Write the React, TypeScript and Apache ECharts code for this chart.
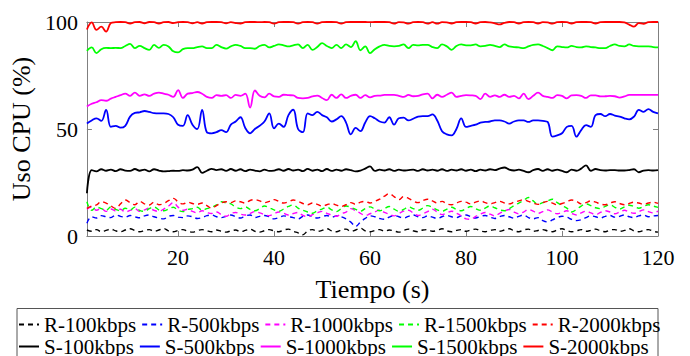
import React, { useEffect, useRef } from "react";
import * as echarts from "echarts";

const FONT = "Liberation Serif";

const TIME: number[] = Array.from({ length: 120 }, (_, i) => i + 1);
const X_TICKS = [20, 40, 60, 80, 100, 120];

const R100 = [
  2.8, 2.2, 3.0, 2.0, 2.6, 3.2, 2.4, 2.0, 2.8, 3.4,
  2.6, 2.0, 2.5, 3.0, 2.2, 2.8, 3.5, 2.4, 2.0, 2.6,
  3.0, 2.2, 1.8, 2.5, 3.0, 2.4, 2.0, 2.8, 2.2, 1.8,
  2.4, 2.8, 2.0, 2.6, 3.2, 2.2, 1.8, 2.5, 3.0, 2.4,
  2.0, 2.8, 3.2, 2.2, 1.5, 0.6, 2.4, 3.0, 2.2, 2.6,
  3.4, 2.4, 2.0, 2.8, 3.2, 2.2, 2.8, 3.6, 2.4, 2.0,
  2.6, 3.0, 2.2, 2.8, 2.4, 1.8, 2.6, 3.2, 2.4, 2.0,
  2.8, 3.0, 2.2, 2.6, 3.4, 2.4, 2.0, 2.6, 3.0, 2.2,
  2.8, 3.2, 2.4, 2.0, 2.6, 3.0, 2.2, 2.8, 3.4, 2.4,
  2.0, 2.8, 3.2, 2.2, 2.6, 3.0, 2.4, 2.0, 2.8, 3.4,
  2.6, 2.0, 2.4, 3.0, 2.2, 2.6, 3.2, 2.4, 2.0, 2.8,
  3.0, 2.2, 2.6, 3.4, 2.4, 2.0, 2.6, 3.0, 2.2, 1.8,
];
const R500 = [
  6.0, 9.0, 8.4, 9.5, 9.0, 8.6, 9.8, 9.2, 8.8, 9.6,
  9.0, 8.5, 9.4, 9.8, 9.0, 8.4, 8.0, 9.2, 9.6, 8.8,
  8.6, 9.4, 9.0, 8.2, 8.6, 9.5, 9.8, 9.0, 8.6, 9.2,
  9.8, 9.0, 8.4, 9.4, 9.8, 8.6, 9.2, 9.6, 9.0, 8.0,
  8.6, 9.4, 9.0, 8.6, 8.0, 9.2, 9.8, 9.0, 8.4, 9.0,
  9.6, 8.8, 9.4, 9.0, 8.0, 6.5, 4.5, 6.5, 8.2, 9.4,
  9.0, 8.2, 7.8, 8.8, 9.6, 9.0, 8.4, 9.2, 9.8, 9.0,
  8.6, 9.4, 8.8, 8.2, 9.0, 9.6, 9.0, 8.6, 9.4, 9.8,
  9.0, 8.4, 9.2, 9.6, 8.8, 8.2, 9.0, 9.6, 9.0, 8.4,
  9.2, 9.8, 8.6, 8.0, 8.6, 7.2, 6.6, 7.5, 8.6, 9.2,
  8.8, 7.8, 7.2, 7.6, 8.6, 9.4, 9.0, 8.4, 9.2, 9.6,
  8.8, 9.2, 9.8, 9.0, 8.6, 9.4, 9.8, 9.0, 9.4, 9.6,
];
const R1000 = [
  12.5, 13.5, 12.0, 12.8, 11.5, 12.6, 11.8, 12.5, 11.2, 12.0,
  12.8, 11.5, 12.2, 13.0, 12.0, 11.5, 12.6, 14.0, 15.6, 13.5,
  12.0, 12.5, 11.5, 10.8, 11.8, 11.0, 10.5, 11.2, 10.0, 9.2,
  10.5, 11.0, 10.2, 9.8, 10.6, 11.4, 10.8, 10.0, 9.5, 10.4,
  11.2, 10.6, 9.8, 10.5, 11.0, 9.6, 9.0, 10.0, 10.8, 11.5,
  10.6, 9.8, 9.2, 10.4, 11.2, 12.8, 11.8, 10.6, 9.6, 10.4,
  11.2, 12.2, 11.0, 10.2, 9.4, 10.5, 11.6, 12.0, 10.8, 9.6,
  10.4, 11.4, 12.5, 11.2, 10.0, 10.8, 11.6, 10.6, 9.4, 8.0,
  7.8, 9.2, 10.2, 11.0, 10.2, 9.4, 10.6, 11.6, 12.4, 11.2,
  10.4, 11.2, 12.4, 11.6, 10.6, 11.4, 12.2, 11.2, 10.4, 11.0,
  11.8, 10.6, 9.8, 10.8, 11.6, 10.8, 10.0, 11.0, 11.8, 11.2,
  10.4, 11.2, 12.0, 11.2, 10.6, 11.4, 12.2, 11.4, 10.8, 11.6,
];
const R1500 = [
  16.0, 12.0, 13.5, 12.8, 12.0, 13.6, 12.4, 11.8, 13.0, 12.2,
  13.5, 12.0, 11.5, 12.8, 13.6, 12.2, 11.8, 12.6, 13.4, 12.0,
  11.4, 12.4, 12.8, 13.4, 12.0, 12.8, 13.4, 14.5, 16.0, 15.5,
  15.0, 13.5, 12.8, 13.6, 12.4, 11.8, 12.8, 14.0, 13.2, 12.2,
  11.6, 12.6, 13.8, 14.5, 13.0, 12.0, 11.2, 10.6, 11.8, 12.6,
  13.4, 12.2, 11.4, 12.8, 14.0, 13.4, 12.4, 11.6, 12.8, 13.6,
  12.6, 11.8, 12.8, 13.8, 12.6, 11.6, 12.4, 13.6, 12.8, 12.0,
  13.0, 14.2, 13.4, 12.2, 11.6, 12.6, 13.4, 12.4, 11.8, 12.8,
  13.8, 12.8, 12.0, 13.0, 14.0, 13.2, 12.2, 11.8, 12.8, 14.2,
  15.4, 16.6, 18.0, 16.4, 14.8, 15.6, 16.4, 17.2, 15.6, 14.2,
  13.0, 11.2, 12.4, 14.0, 15.0, 14.2, 13.2, 12.8, 13.8, 14.6,
  13.4, 12.6, 13.6, 14.4, 13.8, 13.0, 13.8, 14.6, 14.0, 13.4,
];
const R2000 = [
  12.9, 14.0, 14.5, 16.0, 15.4, 14.0, 12.9, 15.0, 16.8, 15.6,
  14.6, 16.2, 15.0, 14.5, 15.8, 14.6, 15.2, 16.5, 17.6, 16.0,
  15.0, 15.8, 15.2, 14.8, 15.4, 14.2, 13.0, 14.2, 15.4, 16.0,
  15.6, 16.4, 16.0, 15.4, 16.6, 17.0, 16.4, 15.6, 16.2, 17.0,
  16.2, 15.4, 16.0, 16.8, 16.2, 15.2, 14.6, 15.4, 14.8, 14.0,
  14.6, 15.2, 14.4, 13.8, 14.6, 15.6, 14.8, 15.8, 16.2, 15.4,
  16.2, 17.2, 18.6, 19.8, 18.4, 17.0, 18.4, 17.6, 16.4, 15.6,
  16.6, 17.2, 16.4, 15.4, 16.2, 15.0, 14.6, 15.4, 16.2, 15.8,
  15.0, 15.8, 16.4, 15.6, 15.0, 15.6, 16.2, 15.4, 15.0, 15.8,
  16.4, 17.0, 16.2, 15.4, 14.8, 15.6, 16.2, 15.4, 14.6, 15.2,
  16.0, 16.8, 16.2, 15.0, 15.6, 16.4, 15.8, 15.0, 14.6, 15.4,
  16.0, 15.2, 14.6, 15.2, 15.8, 15.4, 14.8, 15.4, 15.8, 15.2,
];
const S100 = [
  20.0, 30.8, 30.2, 31.2, 30.5, 31.0, 30.3, 31.2, 30.6, 30.4,
  31.3, 30.5, 31.0, 30.2, 31.2, 30.6, 30.2, 30.3, 30.5, 30.4,
  30.8, 30.6, 31.0, 32.2, 29.5, 30.5, 31.4, 30.8, 31.2, 30.4,
  31.3, 30.5, 31.2, 30.3, 31.0, 30.6, 30.2, 31.0, 30.4, 30.6,
  31.2, 30.5, 31.3, 30.6, 31.0, 30.3, 31.4, 30.5, 31.0, 30.3,
  31.3, 30.4, 31.0, 30.5, 31.2, 30.8, 30.2, 30.6, 31.5, 32.5,
  30.4, 31.0, 30.6, 31.2, 30.4, 31.0, 30.6, 30.8, 31.0, 30.4,
  31.2, 30.6, 31.0, 30.5, 31.2, 30.4, 31.0, 30.6, 31.2, 30.5,
  31.0, 30.3, 31.0, 30.6, 31.2, 30.8, 31.5, 32.0, 31.0, 30.6,
  31.0, 30.4, 29.8, 30.8, 31.3, 30.4, 31.2, 30.5, 31.0, 30.4,
  29.8, 31.0, 30.5, 31.5, 33.0, 30.5, 31.3, 30.8, 30.6, 30.8,
  30.8, 30.6, 30.6, 30.8, 31.2, 29.8, 30.6, 30.8, 30.6, 30.8,
];
const S500 = [
  52.6, 54.0, 55.0, 53.8, 58.9, 51.0, 51.5, 50.6, 51.5, 55.8,
  57.5, 57.8, 58.4, 58.0, 57.4, 57.3, 57.3, 57.0, 55.5, 52.0,
  51.5, 56.5, 52.0, 50.0, 58.9, 48.5, 48.0, 48.5, 49.5, 48.5,
  52.0, 53.5, 55.5, 50.5, 48.0, 50.0, 51.5, 53.5, 57.3, 50.3,
  52.5, 51.0, 56.5, 59.0, 50.0, 48.5, 57.3, 56.5, 58.0, 56.5,
  55.5, 53.5, 54.5, 56.0, 53.0, 47.5, 50.5, 49.0, 53.0, 56.0,
  55.0, 53.5, 53.0, 55.5, 52.0, 55.0, 55.3, 54.0, 54.8, 55.8,
  56.0, 56.0, 56.8, 54.0, 49.0, 47.5, 47.0, 50.0, 55.0, 51.0,
  51.5, 52.0, 53.0, 53.3, 53.5, 54.0, 54.0, 53.5, 52.5, 53.5,
  54.0, 54.0, 53.3, 54.0, 54.0, 53.8, 53.3, 46.4, 47.0, 48.0,
  51.0, 51.5, 46.4, 49.5, 51.8, 51.0, 56.5, 57.0, 56.0, 57.0,
  56.3, 55.8, 55.0, 54.5, 55.8, 58.9, 58.0, 59.3, 58.0, 57.3,
];
const S1000 = [
  60.5, 61.8, 62.5, 63.5, 63.2, 64.2, 65.0, 65.8, 66.5, 65.5,
  67.0, 65.5, 66.2, 65.5, 66.5, 67.0, 66.5, 66.0, 65.0, 68.2,
  64.5, 66.5, 66.8, 67.3, 66.5, 65.0, 64.5, 65.8, 65.5, 65.8,
  64.5, 65.9, 65.5, 66.5, 60.0, 68.0, 65.5, 64.8, 66.5, 65.2,
  65.0, 66.0, 65.8, 65.7, 64.5, 64.3, 64.5, 65.2, 65.6, 64.5,
  63.5, 66.0, 64.5, 66.2, 64.5, 65.5, 66.0, 64.5, 65.8, 64.8,
  65.5, 65.6, 65.9, 65.9, 65.9, 65.5, 65.0, 65.9, 65.3, 65.5,
  66.2, 66.5, 64.3, 66.0, 65.0, 66.0, 67.0, 65.0, 65.5, 65.8,
  65.7, 65.5, 64.0, 66.5, 65.0, 65.7, 65.0, 66.0, 65.0, 65.5,
  64.3, 66.5, 64.0, 65.5, 67.0, 65.5, 65.0, 64.5, 65.8, 65.5,
  64.3, 65.7, 65.8, 65.5, 64.5, 65.7, 65.7, 65.2, 65.3, 65.5,
  65.3, 64.7, 65.2, 65.9, 65.9, 65.9, 65.9, 65.9, 65.9, 65.9,
];
const S1500 = [
  86.5, 88.1, 85.5, 87.3, 87.9, 87.8, 87.9, 87.8, 88.8, 89.8,
  87.8, 88.8, 87.8, 87.0, 89.3, 87.9, 89.3, 88.6, 86.3, 85.8,
  87.3, 87.8, 87.8, 88.3, 88.6, 87.8, 87.8, 89.3, 88.3, 87.6,
  88.6, 89.3, 88.8, 87.8, 87.8, 87.5, 88.8, 89.3, 88.1, 88.8,
  89.5, 89.1, 88.6, 89.1, 89.5, 87.8, 89.3, 87.0, 88.3, 90.1,
  88.8, 87.8, 89.3, 87.8, 89.5, 88.3, 91.0, 86.8, 88.6, 85.5,
  87.3, 88.6, 89.3, 88.8, 88.6, 88.8, 89.5, 87.8, 89.3, 89.1,
  89.3, 89.3, 88.3, 87.8, 89.5, 88.6, 87.0, 88.8, 89.5, 89.1,
  89.1, 89.5, 88.6, 88.8, 89.3, 88.8, 88.3, 89.5, 88.6, 88.3,
  88.1, 87.8, 88.6, 89.3, 89.5, 88.8, 87.8, 86.8, 88.6, 88.3,
  88.1, 88.8, 88.3, 88.1, 88.6, 88.3, 88.1, 87.8, 87.8, 88.8,
  89.5, 88.8, 88.6, 89.5, 88.8, 88.6, 88.6, 88.6, 88.3, 88.1,
];
const S2000 = [
  96.5, 99.8, 96.3, 97.8, 95.5, 99.5, 99.9, 100, 99.9, 99.3,
  99.9, 100, 99.4, 100, 99.9, 99.3, 99.9, 100, 99.5, 99.9,
  100, 99.9, 99.4, 99.9, 99.3, 99.9, 100, 100, 99.9, 99.4,
  99.9, 99.5, 99.3, 99.9, 100, 100, 99.9, 100, 99.9, 99.2,
  99.9, 100, 100, 99.9, 99.2, 99.9, 100, 99.9, 99.2, 99.9,
  100, 100, 99.9, 99.2, 99.9, 100, 100, 100, 100, 99.9,
  100, 100, 100, 99.9, 99.2, 99.9, 99.8, 99.2, 99.9, 100,
  99.9, 99.2, 99.9, 99.2, 99.9, 99.8, 99.3, 99.9, 100, 100,
  99.9, 99.3, 99.9, 100, 99.8, 99.4, 98.9, 99.6, 100, 99.9,
  99.3, 99.9, 100, 99.9, 99.3, 99.9, 99.8, 99.2, 99.9, 100,
  99.9, 99.3, 99.9, 100, 100, 99.9, 99.3, 99.9, 100, 100,
  100, 100, 99.8, 98.8, 97.8, 99.5, 99.1, 99.9, 100, 100,
];

const R_NAMES = ["R-100kbps", "R-500kbps", "R-1000kbps", "R-1500kbps", "R-2000kbps"];
const S_NAMES = ["S-100kbps", "S-500kbps", "S-1000kbps", "S-1500kbps", "S-2000kbps"];
const COLORS = ["#000000", "#0000ff", "#ff00ff", "#00ff00", "#ff0000"];
const R_DATA = [R100, R500, R1000, R1500, R2000];
const S_DATA = [S100, S500, S1000, S1500, S2000];

const AXIS_COLOR = "#808080";

function mkSeries(name: string, values: number[], color: string, dashed: boolean) {
  return {
    name,
    type: "line",
    data: values.map((v, i) => [TIME[i], v]),
    smooth: 0.4,
    symbol: "none",
    showSymbol: false,
    clip: false,
    lineStyle: { color, width: dashed ? 1.4 : 1.8, type: dashed ? [5, 4] : "solid" },
    itemStyle: { color },
    emphasis: { disabled: true },
    xAxisIndex: 0,
    yAxisIndex: 0,
  };
}

export default function App() {
  const ref = useRef<HTMLDivElement>(null);
  useEffect(() => {
    if (!ref.current) return;
    const chart = echarts.init(ref.current, null, { renderer: "svg" });
    const legendBase = {
      orient: "horizontal",
      left: 18,
      padding: 0,
      itemWidth: 20,
      itemHeight: 10,
      itemGap: 5,
      selectedMode: false,
      itemStyle: { opacity: 0 },
      textStyle: { fontFamily: FONT, fontSize: 21, color: "#000" },
    };
    const option = {
      animation: false,
      backgroundColor: "#ffffff",
      textStyle: { fontFamily: FONT },
      grid: { left: 83, right: 32, top: 22, bottom: 120, show: false },
      xAxis: [
        {
          type: "value",
          min: 1,
          max: 120,
          position: "bottom",
          name: "Tiempo (s)",
          nameLocation: "middle",
          nameGap: 40,
          nameTextStyle: { fontFamily: FONT, fontSize: 26, color: "#000" },
          axisLine: { show: true, onZero: false, lineStyle: { color: AXIS_COLOR, width: 1 } },
          axisTick: { show: true, inside: true, length: 5, customValues: X_TICKS, lineStyle: { color: AXIS_COLOR } },
          axisLabel: { show: true, customValues: X_TICKS, fontFamily: FONT, fontSize: 22, color: "#000", margin: 10 },
          splitLine: { show: false },
        },
        {
          type: "value",
          min: 1,
          max: 120,
          position: "top",
          axisLine: { show: true, onZero: false, lineStyle: { color: AXIS_COLOR, width: 1 } },
          axisTick: { show: true, inside: true, length: 5, customValues: X_TICKS, lineStyle: { color: AXIS_COLOR } },
          axisLabel: { show: false },
          splitLine: { show: false },
        },
      ],
      yAxis: [
        {
          type: "value",
          min: 0,
          max: 100,
          interval: 50,
          position: "left",
          name: "Uso CPU (%)",
          nameLocation: "middle",
          nameGap: 47,
          nameTextStyle: { fontFamily: FONT, fontSize: 26, color: "#000" },
          axisLine: { show: true, onZero: false, lineStyle: { color: AXIS_COLOR, width: 1 } },
          axisTick: { show: true, inside: true, length: 5, lineStyle: { color: AXIS_COLOR } },
          axisLabel: { show: true, fontFamily: FONT, fontSize: 22, color: "#000", margin: 9 },
          splitLine: { show: false },
        },
        {
          type: "value",
          min: 0,
          max: 100,
          interval: 50,
          position: "right",
          axisLine: { show: true, onZero: false, lineStyle: { color: AXIS_COLOR, width: 1 } },
          axisTick: { show: true, inside: true, length: 5, lineStyle: { color: AXIS_COLOR } },
          axisLabel: { show: false },
          splitLine: { show: false },
        },
      ],
      legend: [
        { ...legendBase, top: 314, data: R_NAMES },
        { ...legendBase, top: 336, data: S_NAMES },
      ],
      graphic: [
        {
          type: "rect",
          shape: { x: 17, y: 308.5, width: 641, height: 60 },
          style: { fill: "#ffffff", stroke: "#555555", lineWidth: 1 },
          z: -1,
          silent: true,
        },
      ],
      series: [
        ...R_NAMES.map((n, i) => mkSeries(n, R_DATA[i], COLORS[i], true)),
        ...S_NAMES.map((n, i) => mkSeries(n, S_DATA[i], COLORS[i], false)),
      ],
    };
    chart.setOption(option as any);
    return () => chart.dispose();
  }, []);
  return (
    <div
      ref={ref}
      style={{ position: "fixed", left: 0, top: 0, width: 690, height: 356, background: "#fff" }}
    />
  );
}
